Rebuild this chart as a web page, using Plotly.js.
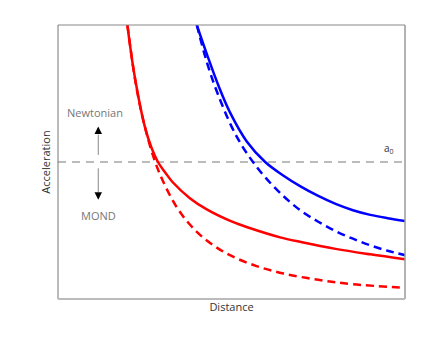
<!DOCTYPE html>
<html>
<head>
<meta charset="utf-8">
<script src="https://cdn.plot.ly/plotly-3.0.1.min.js"></script>
<style>html,body{margin:0;padding:0;background:#fff}#chart{width:448px;height:337px}</style>
</head>
<body>
<div id="chart"></div>
<script>
// Red galaxy (small mass)
const redMondX = [2.0, 2.2, 2.5, 2.7, 2.88, 3.1, 3.3, 3.8, 4.3, 5.0, 5.5, 6.4, 7.0, 8.0, 9.0, 10.0];
const redMondY = [10.0, 8.2, 6.3, 5.5, 5.0, 4.6, 4.27, 3.68, 3.26, 2.83, 2.6, 2.25, 2.08, 1.83, 1.63, 1.45];
const redNewtX = [2.0, 2.25, 2.5, 2.8, 3.1, 3.5, 4.0, 4.5, 5.0, 5.7, 6.5, 7.5, 8.5, 10.0];
const redNewtY = [10.0, 7.8, 6.3, 5.0, 4.1, 3.2, 2.45, 1.94, 1.57, 1.21, 0.93, 0.70, 0.54, 0.41];
// Blue galaxy (large mass)
const blueMondX = [4.0, 4.3, 4.62, 4.96, 5.44, 5.97, 6.5, 7.0, 7.5, 8.0, 8.5, 9.0, 9.5, 10.0];
const blueMondY = [10.0, 8.9, 7.8, 6.8, 5.75, 5.0, 4.5, 4.1, 3.76, 3.47, 3.24, 3.07, 2.95, 2.85];
const blueNewtX = [4.0, 4.3, 4.6, 5.0, 5.3, 5.62, 6.0, 6.5, 7.0, 7.5, 8.0, 8.5, 9.0, 9.5, 10.0];
const blueNewtY = [10.0, 8.6, 7.5, 6.3, 5.6, 5.0, 4.4, 3.75, 3.22, 2.82, 2.48, 2.2, 1.96, 1.76, 1.6];
// a0 threshold
const a0X = [0, 10];
const a0Y = [5.0, 5.0];

const font = "'Open Sans', 'DejaVu Sans', sans-serif";

const traces = [
  {x: a0X, y: a0Y, mode: 'lines', line: {color: '#bbbbbb', width: 2, dash: '8px,6px'}, hoverinfo: 'skip'},
  {x: redNewtX, y: redNewtY, mode: 'lines', line: {color: '#ff0000', width: 2.5, dash: '8px,5px', shape: 'spline'}},
  {x: redMondX, y: redMondY, mode: 'lines', line: {color: '#ff0000', width: 2.5, shape: 'spline'}},
  {x: blueNewtX, y: blueNewtY, mode: 'lines', line: {color: '#0000ff', width: 2.5, dash: '8px,5px', shape: 'spline'}},
  {x: blueMondX, y: blueMondY, mode: 'lines', line: {color: '#0000ff', width: 2.5, shape: 'spline'}}
];

const layout = {
  width: 448, height: 337,
  margin: {l: 58, r: 43, t: 25, b: 38},
  paper_bgcolor: '#ffffff', plot_bgcolor: '#ffffff',
  showlegend: false,
  font: {family: font, size: 11, color: '#333'},
  xaxis: {range: [0, 10], showticklabels: false, ticks: '', showgrid: false, zeroline: false,
          showline: false, title: {text: 'Distance', font: {family: font, size: 11, color: '#333'}, standoff: 4}},
  yaxis: {range: [0, 10], showticklabels: false, ticks: '', showgrid: false, zeroline: false,
          showline: false, title: {text: 'Acceleration', font: {family: font, size: 11, color: '#333'}, standoff: 4}},
  shapes: [
    {type: 'line', xref: 'paper', yref: 'paper', x0: 0, x1: 1, y0: 1, y1: 1, line: {color: '#888', width: 1}},
    {type: 'line', xref: 'paper', yref: 'paper', x0: 1, x1: 1, y0: 0, y1: 1, line: {color: '#999', width: 1.5}},
    {type: 'line', xref: 'paper', yref: 'paper', x0: 0, x1: 0, y0: 0, y1: 1, line: {color: '#777', width: 1}},
    {type: 'line', xref: 'paper', yref: 'paper', x0: 0, x1: 1, y0: 0, y1: 0, line: {color: '#bbb', width: 2}},
    {type: 'line', xref: 'x', yref: 'y', x0: 1.16, x1: 1.16, y0: 5.26, y1: 6.0, line: {color: '#888', width: 1}},
    {type: 'line', xref: 'x', yref: 'y', x0: 1.16, x1: 1.16, y0: 4.77, y1: 3.9, line: {color: '#888', width: 1}}
  ],
  annotations: [
    {x: 1.07, y: 6.8, xref: 'x', yref: 'y', text: 'Newtonian', showarrow: false, font: {family: font, size: 11, color: '#777'}},
    {x: 1.16, y: 3.03, xref: 'x', yref: 'y', text: 'MOND', showarrow: false, font: {family: font, size: 11, color: '#777'}},
    {x: 1.16, y: 6.3, xref: 'x', yref: 'y', text: '', showarrow: true, arrowhead: 2, arrowsize: 1, arrowwidth: 1.5,
     arrowcolor: '#000', ax: 0, ay: 8},
    {x: 1.16, y: 3.62, xref: 'x', yref: 'y', text: '', showarrow: true, arrowhead: 2, arrowsize: 1, arrowwidth: 1.5,
     arrowcolor: '#000', ax: 0, ay: -8},
    {x: 9.55, y: 5.5, xref: 'x', yref: 'y', text: 'a<sub>0</sub>', showarrow: false, font: {family: font, size: 10, color: '#333'}}
  ]
};

Plotly.newPlot('chart', traces, layout, {staticPlot: true, displayModeBar: false});
</script>
</body>
</html>
